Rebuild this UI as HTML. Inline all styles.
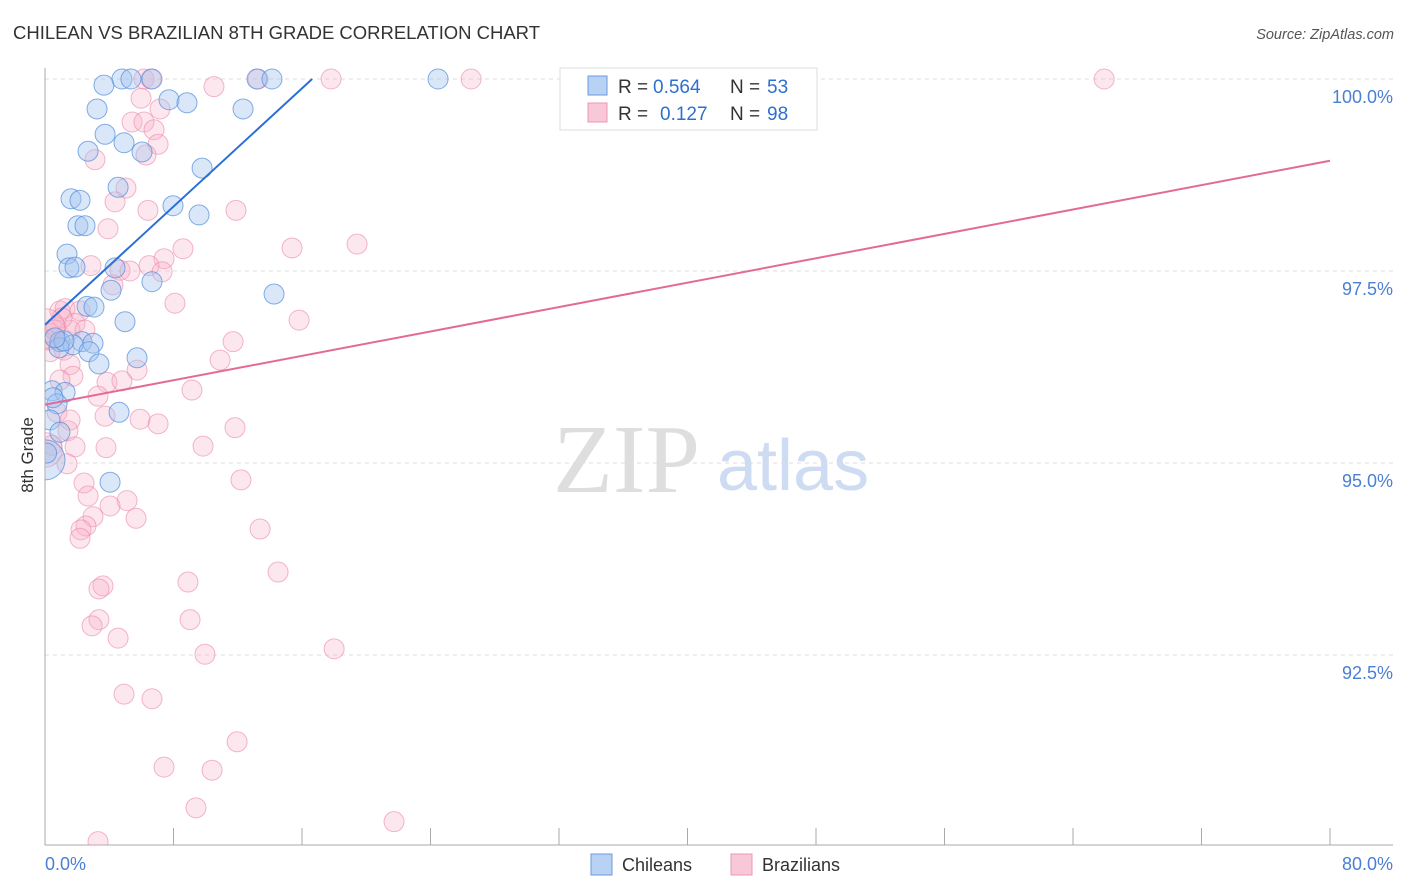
<!DOCTYPE html>
<html><head><meta charset="utf-8"><style>
body{margin:0;background:#fff;font-family:"Liberation Sans",sans-serif;}
svg{display:block}
</style></head><body>
<svg id="chart" width="1406" height="892">
<text x="13" y="39" font-size="18.5" fill="#333" textLength="527">CHILEAN VS BRAZILIAN 8TH GRADE CORRELATION CHART</text>
<text x="1394" y="39" font-size="14.5" fill="#555" font-style="italic" text-anchor="end">Source: ZipAtlas.com</text>
<text transform="translate(33,455) rotate(-90)" font-size="17" fill="#333" text-anchor="middle">8th Grade</text>
<g>
<text x="553" y="492" font-family="Liberation Serif,serif" font-size="98" fill="#dedede">ZIP</text>
<text x="717" y="490" font-size="72" fill="#cddcf2">atlas</text>
</g>
<g id="grid"></g>
<g id="axes"></g>
<defs><clipPath id="pc"><rect x="45" y="60" width="1360" height="785"/></clipPath></defs>
<g id="marks" clip-path="url(#pc)"></g>
<g>
<rect x="560" y="68" width="257" height="62" fill="#fff" stroke="#ddd"/>
<rect x="588" y="76" width="19" height="19" fill="#b8d2f4" stroke="#6a9ae0"/>
<rect x="588" y="103" width="19" height="19" fill="#f9c8d8" stroke="#ec97b3"/>
<text x="618" y="93" font-size="19" fill="#333">R =</text>
<text x="653" y="93" font-size="19" fill="#2e6fd0">0.564</text>
<text x="730" y="93" font-size="19" fill="#333">N =</text>
<text x="767" y="93" font-size="19" fill="#2e6fd0">53</text>
<text x="618" y="120" font-size="19" fill="#333">R =</text>
<text x="660" y="120" font-size="19" fill="#2e6fd0">0.127</text>
<text x="730" y="120" font-size="19" fill="#333">N =</text>
<text x="767" y="120" font-size="19" fill="#2e6fd0">98</text>
</g>
<g>
<rect x="591" y="854" width="21" height="21" fill="#b8d2f4" stroke="#6a9ae0"/>
<text x="622" y="871" font-size="18" fill="#333">Chileans</text>
<rect x="731" y="854" width="21" height="21" fill="#f9c8d8" stroke="#ec97b3"/>
<text x="762" y="871" font-size="18" fill="#333">Brazilians</text>
</g>
</svg>
<script>
const blueX=[3.67,4.79,5.35,6.66,13.2,14.13,24.47,3.24,7.72,8.84,12.33,3.74,4.92,2.68,6.04,9.78,4.55,1.62,2.18,7.97,9.59,2.05,2.49,1.37,1.49,1.87,4.36,6.66,4.11,14.26,2.62,3.05,4.98,0.93,2.30,2.99,1.74,0.87,2.74,3.36,5.73,0.44,1.25,0.75,4.61,0.31,0.93,4.05,0,0.1,0.5,1.18,0.62];
const blueY=[99.92,100,100,100,100,100,100,99.61,99.73,99.69,99.61,99.28,99.17,99.06,99.05,98.84,98.59,98.44,98.42,98.35,98.23,98.09,98.09,97.72,97.54,97.55,97.54,97.36,97.25,97.20,97.04,97.03,96.84,96.58,96.58,96.56,96.54,96.50,96.45,96.29,96.37,95.94,95.92,95.77,95.66,95.56,95.40,94.75,95.04,95.13,95.85,96.59,96.63];
const blueW=[1,1,1,1,1,1,1,1,1,1,1,1,1,1,1,1,1,1,1,1,1,1,1,1,1,1,1,1,1,1,1,1,1,1,1,1,1,1,1,1,1,1,1,1,1,1,1,1,4,1,1,1,1];
const pinkX=[6.16,6.60,13.26,17.81,26.53,65.94,10.52,5.98,7.16,5.42,6.16,6.79,7.04,6.29,3.11,5.04,4.36,6.41,11.89,3.92,8.59,15.38,19.43,7.41,2.86,4.67,5.29,6.48,7.29,4.23,8.09,15.82,0.93,1.25,2.18,1.87,0.68,0.31,1.56,2.49,11.71,1.18,10.90,5.73,1.56,1.74,3.86,4.79,9.15,3.30,0.75,3.74,5.92,7.04,11.83,1.43,0.44,1.87,3.80,9.84,1.37,0,12.2,2.43,2.68,5.11,4.05,5.67,2.99,2.55,2.24,2.18,13.39,14.51,8.90,3.61,3.36,3.36,9.03,2.93,4.55,9.96,18.0,4.92,6.66,11.96,7.41,10.40,9.40,3.30,21.73,1.06,0.62,0.19,0.31,1.56,0.93,0];
const pinkY=[100,100,100,100,100,100,99.90,99.75,99.61,99.44,99.44,99.34,99.15,99.01,98.95,98.58,98.40,98.29,98.29,98.05,97.79,97.80,97.85,97.66,97.57,97.51,97.50,97.57,97.49,97.32,97.08,96.86,96.98,97.01,96.98,96.82,96.77,96.69,96.73,96.73,96.58,96.47,96.34,96.21,96.28,96.13,96.05,96.07,95.95,95.87,95.66,95.61,95.57,95.51,95.46,95.42,95.23,95.21,95.20,95.22,94.99,95.17,94.78,94.74,94.57,94.51,94.44,94.28,94.30,94.18,94.13,94.02,94.14,93.58,93.45,93.40,93.36,92.96,92.96,92.88,92.72,92.51,92.58,91.99,91.93,91.37,91.04,91.00,90.51,90.07,90.33,96.89,96.73,96.60,96.45,95.56,96.08,96.75];
const pinkW=pinkX.map((_,i)=>i===61?3:(i===97?4:1));
const blueTrend=[96.80,0.1924];
const pinkTrend=[95.76,0.0397];
const yTicks=[100,97.5,95,92.5];
const yTickLabels=["100.0%","97.5%","95.0%","92.5%"];
const xTickStep=8;

const NS="http://www.w3.org/2000/svg";
const sx=v=>45+v*(1285/80);
const sy=v=>79+(100-v)*76.8;
function mk(tag,attrs,parent){const e=document.createElementNS(NS,tag);for(const k in attrs)e.setAttribute(k,attrs[k]);parent.appendChild(e);return e;}
const grid=document.getElementById('grid'),axes=document.getElementById('axes'),marks=document.getElementById('marks');
yTicks.forEach((t,i)=>{
 const l=mk('line',{x1:45,x2:1393,y1:sy(t),y2:sy(t),stroke:'#ddd','stroke-dasharray':'4,4'},grid);
 
 
 const tx=mk('text',{x:1393,y:sy(t)+24,'text-anchor':'end','font-size':18,fill:'#4a7fd4'},axes);
 tx.textContent=yTickLabels[i];
 
 
});
const xa=mk('line',{x1:45,x2:1393,y1:845,y2:845,stroke:'#aaa'},axes);


const ya=mk('line',{x1:45,x2:45,y1:68,y2:845,stroke:'#aaa'},axes);


for(let v=0;v<=80;v+=xTickStep){
 const t=mk('line',{x1:sx(v),x2:sx(v),y1:828,y2:845,stroke:'#aaa'},axes);
 
 
}
const x0=mk('text',{x:45,y:870,'font-size':18,fill:'#4a7fd4'},axes);x0.textContent='0.0%';


const x1=mk('text',{x:1393,y:870,'text-anchor':'end','font-size':18,fill:'#4a7fd4'},axes);x1.textContent='80.0%';



function pts(X,Y,W,fill,stroke,name){
 X.forEach((x,i)=>{
  const c=mk('circle',{cx:sx(x),cy:sy(Y[i]),r:10*Math.sqrt(W[i]),fill:fill,stroke:stroke,'stroke-width':1},marks);
  
  
 });
}
pts(pinkX,pinkY,pinkW,'rgba(247,175,200,0.3)','rgba(235,135,168,0.6)','brazilian-point');
pts(blueX,blueY,blueW,'rgba(160,196,240,0.4)','rgba(80,140,220,0.7)','chilean-point');
const bEnd=(100-blueTrend[0])/blueTrend[1];
const bl=mk('line',{x1:sx(0),y1:sy(blueTrend[0]),x2:sx(bEnd),y2:sy(100),stroke:'#2a6fd6','stroke-width':2},marks);


const pl=mk('line',{x1:sx(0),y1:sy(pinkTrend[0]),x2:sx(80),y2:sy(pinkTrend[0]+80*pinkTrend[1]),stroke:'#e46a96','stroke-width':2},marks);


</script>
</body></html>
